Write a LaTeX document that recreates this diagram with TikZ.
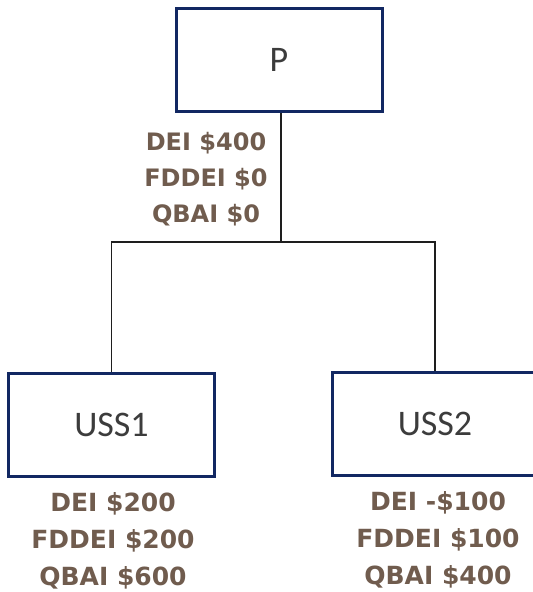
\documentclass[tikz,border=0pt]{standalone}
\usepackage{fontspec}
\usepackage{xcolor}
\usepackage{tikz}
\usetikzlibrary{positioning,calc}
\setmainfont{Carlito}
\newfontfamily\lblfont{DejaVu Sans}[BoldFont={DejaVu Sans Bold}]
\definecolor{orgnavy}{RGB}{18,40,98}
\definecolor{orgbrown}{RGB}{112,92,78}
\definecolor{orgtext}{RGB}{60,60,60}
\definecolor{orgline}{RGB}{30,30,30}

\begin{document}
\begin{tikzpicture}[
  x=1pt, y=-1pt,
  ent/.style={draw=orgnavy, line width=3pt, fill=white, minimum width=206pt, minimum height=103pt, text=orgtext, font=\fontsize{36}{40}\selectfont},
  amt/.style={align=center, text=orgbrown, font=\lblfont\bfseries\fontsize{25}{37}\selectfont},
  conn/.style={orgline, line width=1.3pt}
]
\useasboundingbox (0,0) rectangle (533,592);
\clip (0,0) rectangle (533,592);
\node[ent] (p) at (279,59.5) {P};
\node[ent] (uss1) at (111.5,425) {USS1};
\node[ent] (uss2) at (435,424) {USS2};
\coordinate (bus) at (281,242);
\draw[conn] (p.south -| bus) -- (bus);
\draw[conn] (bus) -| (uss1.north);
\draw[conn] (bus) -| (uss2.north);
\node[amt, font=\lblfont\bfseries\fontsize{24}{36}\selectfont] (pamt) at (206,179) {DEI \$400\\FDDEI \$0\\QBAI \$0};
\node[amt] (uss1amt) at (113,541) {DEI \$200\\FDDEI \$200\\QBAI \$600};
\node[amt] (uss2amt) at (438,540) {DEI -\$100\\FDDEI \$100\\QBAI \$400};
\end{tikzpicture}
\end{document}
